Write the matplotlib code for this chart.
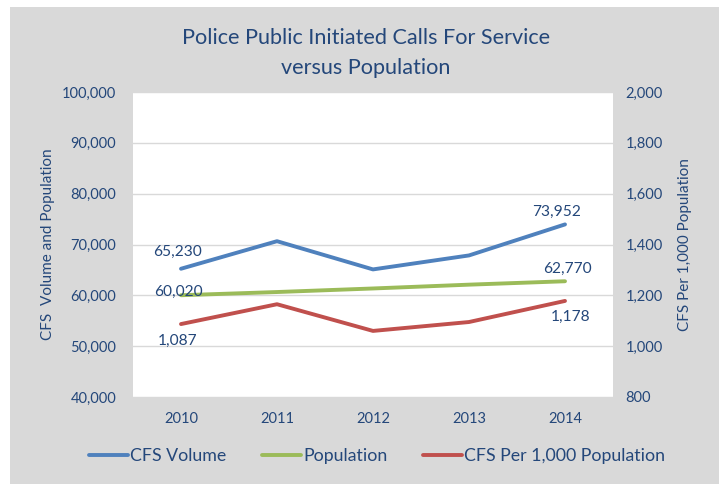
import matplotlib
matplotlib.use("Agg")
import matplotlib.pyplot as plt
from matplotlib.patches import Rectangle
from matplotlib.ticker import FuncFormatter, MultipleLocator

plt.rcParams['font.family'] = ['Lato', 'DejaVu Sans']

# data
years = ['2010', '2011', '2012', '2013', '2014']
cfs_volume = [65230, 70650, 65100, 67850, 73952]
population = [60020, 60650, 61350, 62100, 62770]
cfs_per_1000 = [1087, 1165, 1060, 1095, 1178]

TEXT = '#24477A'
BLUE = '#4F81BD'
GREEN = '#9BBB59'
RED = '#C0504D'
BG = '#D9D9D9'

fig = plt.figure(figsize=(7.19, 4.84), dpi=100)
fig.patch.set_facecolor('white')
fig.patches.append(Rectangle((10 / 719, 0), 1, 1 - 7 / 484, transform=fig.transFigure,
                             facecolor=BG, edgecolor='none', zorder=-10))

ax = fig.add_axes([133 / 719, 1 - 397 / 484, 480 / 719, 305 / 484])
ax2 = ax.twinx()
ax.set_facecolor('white')

x = range(len(years))
lw = 2.8
ax.plot(x, cfs_volume, color=BLUE, lw=lw, solid_capstyle='round', label='CFS Volume', zorder=3)
ax.plot(x, population, color=GREEN, lw=lw, solid_capstyle='round', label='Population', zorder=3)
ax2.plot(x, cfs_per_1000, color=RED, lw=lw, solid_capstyle='round', label='CFS Per 1,000 Population', zorder=3)

ax.set_xlim(-0.5, len(years) - 0.5)
ax.set_ylim(40000, 100000)
ax2.set_ylim(800, 2000)
ax.yaxis.set_major_locator(MultipleLocator(10000))
ax2.yaxis.set_major_locator(MultipleLocator(200))
fmt = FuncFormatter(lambda v, p: f'{v:,.0f}')
ax.yaxis.set_major_formatter(fmt)
ax2.yaxis.set_major_formatter(fmt)
ax.set_xticks(list(x))
ax.set_xticklabels(years)

ax.grid(axis='y', color='#D9D9D9', lw=1)
ax.set_axisbelow(True)
for a in (ax, ax2):
    for s in a.spines.values():
        s.set_visible(False)
    a.tick_params(length=0, colors=TEXT, labelsize=10.5)
ax.tick_params(axis='y', pad=12)
ax.tick_params(axis='x', pad=11)
ax2.tick_params(axis='y', pad=9)

ax.set_ylabel('CFS  Volume and Population', color=TEXT, fontsize=11, labelpad=5)
ax2.set_ylabel('CFS Per 1,000 Population', color=TEXT, fontsize=11, labelpad=11)

fig.text(366 / 719, 1 - 38 / 484, 'Police Public Initiated Calls For Service', color=TEXT,
         fontsize=15.6, ha='center', va='center')
fig.text(366 / 719, 1 - 68 / 484, 'versus Population', color=TEXT,
         fontsize=15.6, ha='center', va='center')

# value labels at first and last points
lab = dict(color=TEXT, fontsize=11.2, ha='center', va='center', textcoords='offset pixels', zorder=4)
ax.annotate(f'{cfs_volume[0]:,}', (0, cfs_volume[0]), xytext=(-3, 17), **lab)
ax.annotate(f'{population[0]:,}', (0, population[0]), xytext=(-3, 3), **lab)
ax2.annotate(f'{cfs_per_1000[0]:,}', (0, cfs_per_1000[0]), xytext=(-3, -17), **lab)
ax.annotate(f'{cfs_volume[-1]:,}', (4, cfs_volume[-1]), xytext=(-8, 13), **lab)
ax.annotate(f'{population[-1]:,}', (4, population[-1]), xytext=(2, 12), **lab)
ax2.annotate(f'{cfs_per_1000[-1]:,}', (4, cfs_per_1000[-1]), xytext=(6, -16), **lab)

h1, l1 = ax.get_legend_handles_labels()
h2, l2 = ax2.get_legend_handles_labels()
leg = fig.legend(h1 + h2, l1 + l2, loc='center', bbox_to_anchor=(377 / 719, 1 - 456 / 484),
                 ncol=3, frameon=False, fontsize=12.8, handlelength=2.2, handletextpad=0.1,
                 columnspacing=2.0)
for t in leg.get_texts():
    t.set_color(TEXT)

fig.savefig('out.png', dpi=100, facecolor=fig.get_facecolor())
